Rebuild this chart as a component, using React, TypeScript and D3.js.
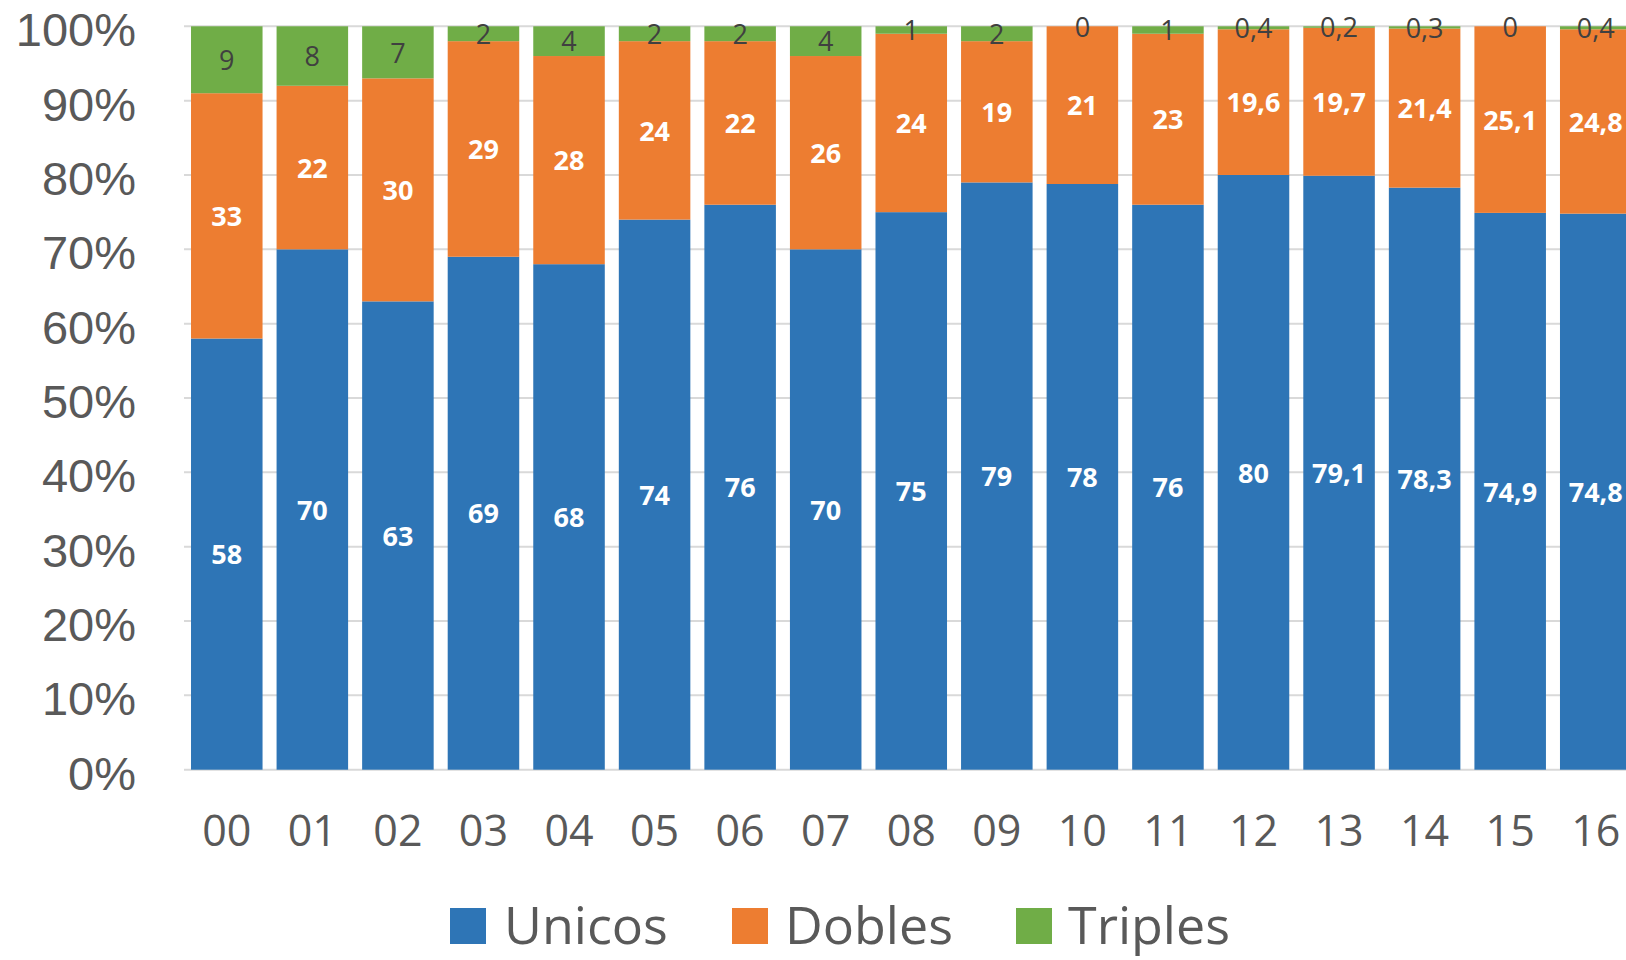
import React from "react";
import * as d3 from "d3";

const categories = ["00","01","02","03","04","05","06","07","08","09","10","11","12","13","14","15","16"];
const unicos = [58,70,63,69,68,74,76,70,75,79,78,76,80,79.1,78.3,74.9,74.8];
const dobles = [33,22,30,29,28,24,22,26,24,19,21,23,19.6,19.7,21.4,25.1,24.8];
const triples = [9,8,7,2,4,2,2,4,1,2,0,1,0.4,0.2,0.3,0,0.4];
const yTicks = [0,0.1,0.2,0.3,0.4,0.5,0.6,0.7,0.8,0.9,1];
const seriesNames = ["Unicos","Dobles","Triples"];
const colors = ["#2E75B6","#ED7D31","#70AD47"];

const W = 1626, H = 960;
const left = 184, top = 26.3, bottom = 769.7;
const step = 85.56;

export default function App() {
  const x = d3.scaleBand<string>().domain(categories).range([left, left + categories.length * step]).paddingInner(0.164).paddingOuter(0.082);
  const y = d3.scaleLinear().domain([0, 1]).range([bottom, top]);
  const rows = categories.map((c, i) => {
    const tot = unicos[i] + dobles[i] + triples[i];
    return { cat: c, Unicos: unicos[i] / tot, Dobles: dobles[i] / tot, Triples: triples[i] / tot, raw: [unicos[i], dobles[i], triples[i]] };
  });
  const stack = d3.stack<any>().keys(seriesNames)(rows);
  const fmt = (v: number) => String(v).replace(".", ",");
  const fontCal = "'Open Sans', sans-serif";
  const legendX = [450, 732, 1016];
  const legendTextX = [504, 785, 1068];
  return (
    <svg width={W} height={H} style={{ position: "absolute", left: 0, top: 0, background: "#fff" }}>
      <rect x={0} y={0} width={W} height={H} fill="#fff" />
      {yTicks.map((t) => (
        <g key={t}>
          <line x1={left} x2={W} y1={y(t)} y2={y(t)} stroke="#D9D9D9" strokeWidth={2} />
          <text x={136} y={y(t) + 20} textAnchor="end" fontFamily="'Liberation Sans', Arial, sans-serif" fontSize={47} fill="#595959">
            {Math.round(t * 100)}%
          </text>
        </g>
      ))}
      {stack.map((s, si) => (
        <g key={s.key}>
          {s.map((d, i) => (
            <rect key={i} x={x(categories[i])} width={x.bandwidth()} y={y(d[1])} height={Math.max(0, y(d[0]) - y(d[1]))} fill={colors[si]} />
          ))}
        </g>
      ))}
      {stack.map((s, si) => (
        <g key={s.key + "l"}>
          {s.map((d, i) => (
            <text key={i} x={(x(categories[i]) as number) + x.bandwidth() / 2} y={y((d[0] + d[1]) / 2)} dy="0.38em" textAnchor="middle"
              fontFamily={fontCal} fontSize={27} fontWeight={si < 2 ? 700 : 400} fill={si < 2 ? "#FFFFFF" : "#404040"}>
              {fmt(rows[i].raw[si])}
            </text>
          ))}
        </g>
      ))}
      {categories.map((c) => (
        <text key={c} x={(x(c) as number) + x.bandwidth() / 2} y={846} textAnchor="middle" fontFamily={fontCal} fontSize={43} fill="#595959">{c}</text>
      ))}
      {seriesNames.map((n, i) => (
        <g key={n}>
          <rect x={legendX[i]} y={908} width={36} height={36} fill={colors[i]} />
          <text x={legendTextX[i]} y={944} fontFamily={fontCal} fontSize={52} fill="#595959">{n}</text>
        </g>
      ))}
    </svg>
  );
}
